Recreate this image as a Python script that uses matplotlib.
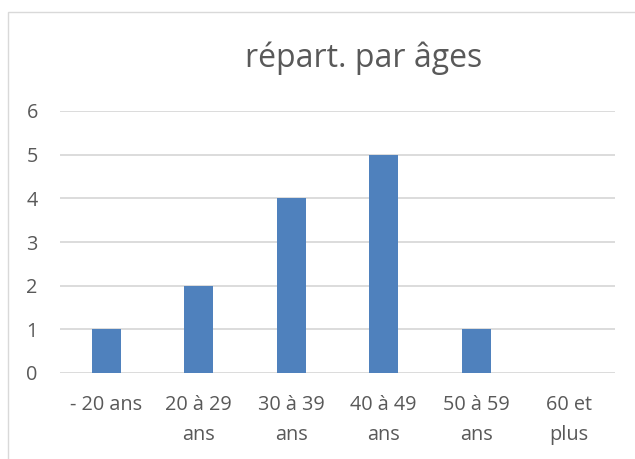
import matplotlib
matplotlib.use("Agg")
import matplotlib.pyplot as plt
from matplotlib.patches import Rectangle

# data
categories = ["- 20 ans", "20 à 29\nans", "30 à 39\nans", "40 à 49\nans", "50 à 59\nans", "60 et\nplus"]
counts = [1, 2, 4, 5, 1, 0]
yticks = [0, 1, 2, 3, 4, 5, 6]

plt.rcParams['font.family'] = ['Open Sans', 'DejaVu Sans']
text_col = '#595959'
grid_col = '#D9D9D9'

W, H = 635, 459
fig = plt.figure(figsize=(W / 100, H / 100), dpi=100)
fig.patch.set_facecolor('white')

# chart frame (left and top edges visible, rest cut off)
fig.patches.append(Rectangle((8 / W, -0.1), 1.2, (H - 12) / H + 0.1,
                             transform=fig.transFigure, fill=False,
                             edgecolor=grid_col, linewidth=1.0))

ax = fig.add_axes([60 / W, (H - 373) / H, (615 - 60) / W, (373 - 111) / H])
x = list(range(len(categories)))
ax.bar(x, counts, width=0.31, color='#4F81BD', zorder=3)

ax.set_xlim(-0.5, len(categories) - 0.5)
ax.set_ylim(0, 6)
ax.set_yticks(yticks)
ax.set_xticks(x)
ax.set_xticklabels(categories, linespacing=1.68)
for s in ax.spines.values():
    s.set_visible(False)
ax.yaxis.grid(True, color=grid_col, linewidth=1.3, zorder=0)
ax.tick_params(axis='x', length=0, colors=text_col, labelsize=14.3, pad=16)
ax.tick_params(axis='y', length=0, colors=text_col, labelsize=14.3, pad=16)

fig.text(364 / W, 1 - 58 / H, "répart. par âges", ha='center', va='center',
         fontsize=23, color=text_col)

fig.savefig("out.png", dpi=100)
